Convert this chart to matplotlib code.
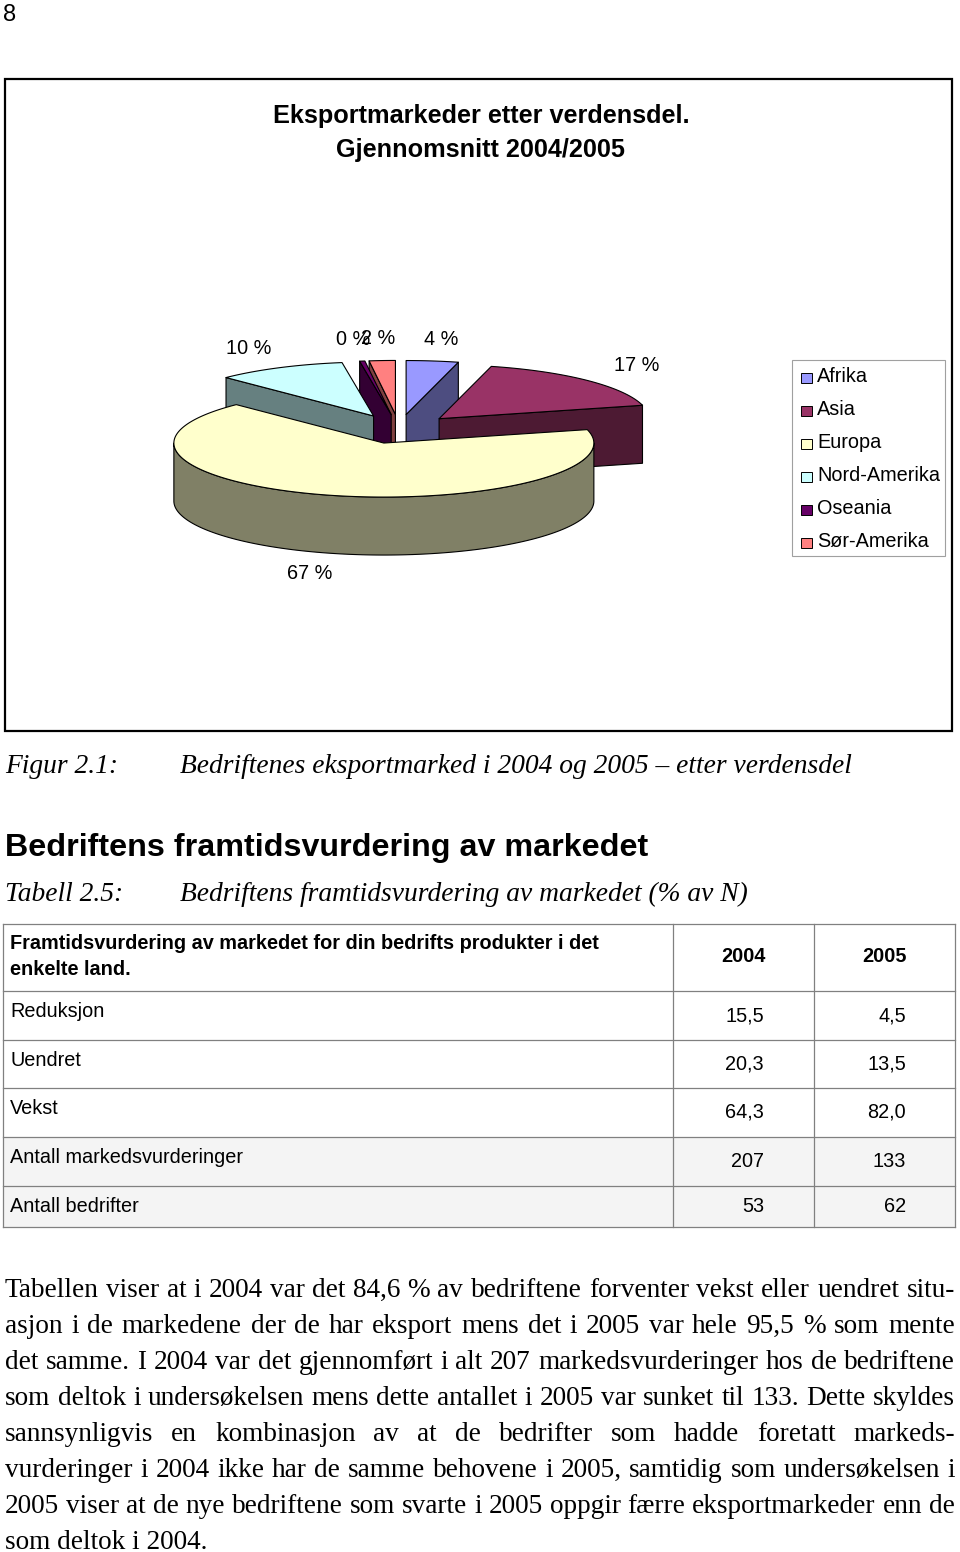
import numpy as np
import matplotlib.pyplot as plt
from matplotlib.patches import Polygon, Rectangle

# export markets by region, average 2004/2005 (percent)
regions = ["Afrika", "Asia", "Europa", "Nord-Amerika", "Oseania", "Sør-Amerika"]
shares = [4.0, 17.0, 66.6, 10.0, 0.4, 2.0]
top_colors = ["#9999FF", "#993366", "#FFFFCC", "#CCFFFF", "#660066", "#FF8080"]
side_colors = ["#4D4D80", "#4D1A33", "#808066", "#668080", "#330033", "#804040"]

# table 2.5
header_text = ["Framtidsvurdering av markedet for din bedrifts produkter i det",
               "enkelte land."]
years = ["2004", "2005"]
row_labels = ["Reduksjon", "Uendret", "Vekst", "Antall markedsvurderinger", "Antall bedrifter"]
vals_2004 = ["15,5", "20,3", "64,3", "207", "53"]
vals_2005 = ["4,5", "13,5", "82,0", "133", "62"]

paragraph = [
    "Tabellen viser at i 2004 var det 84,6 % av bedriftene forventer vekst eller uendret situ-",
    "asjon i de markedene der de har eksport mens det i 2005 var hele 95,5 % som mente",
    "det samme. I 2004 var det gjennomført i alt 207 markedsvurderinger hos de bedriftene",
    "som deltok i undersøkelsen mens dette antallet i 2005 var sunket til 133. Dette skyldes",
    "sannsynligvis en kombinasjon av at de bedrifter som hadde foretatt markeds-",
    "vurderinger i 2004 ikke har de samme behovene i 2005, samtidig som undersøkelsen i",
    "2005 viser at de nye bedriftene som svarte i 2005 oppgir færre eksportmarkeder enn de",
    "som deltok i 2004.",
]

SANS = "Liberation Sans"
SERIF = "Liberation Serif"

fig = plt.figure(figsize=(9.6, 15.52), dpi=100)
ax = fig.add_axes([0, 0, 1, 1])
ax.set_xlim(0, 960)
ax.set_ylim(1552, 0)
ax.axis("off")

# page number
ax.text(3, 21, "8", fontsize=17, family=SANS, va="baseline")

# chart frame
ax.add_patch(Rectangle((5, 79), 947, 652, fill=False, ec="black", lw=1.6))
ax.text(481, 123, "Eksportmarkeder etter verdensdel.", fontsize=18.2, family=SANS,
        weight="bold", ha="center", va="baseline")
ax.text(481, 157, "Gjennomsnitt 2004/2005", fontsize=18.2, family=SANS,
        weight="bold", ha="center", va="baseline")

# 3D exploded pie
cx, cy = 399, 429
rx, ry, depth, explode = 210, 54, 58, 0.27


def rim(x0, y0, th):
    t = np.radians(th)
    return x0 + rx * np.sin(t), y0 - ry * np.cos(t)


fracs = np.array(shares) / sum(shares)
edges = np.concatenate([[0], np.cumsum(fracs)]) * 360
faces = []
tops = []
labels = []
for i in range(len(shares)):
    a0, a1 = edges[i], edges[i + 1]
    mid = np.radians((a0 + a1) / 2)
    ox = cx + explode * rx * np.sin(mid)
    oy = cy - explode * ry * np.cos(mid)
    th = np.linspace(a0, a1, int(a1 - a0) + 3)
    xs, ys = rim(ox, oy, th)
    tops.append((np.column_stack([np.r_[ox, xs], np.r_[oy, ys]]), top_colors[i]))
    # front part of the outer wall
    lo, hi = max(a0, 90), min(a1, 270)
    if hi > lo:
        tw = np.linspace(lo, hi, int(hi - lo) + 3)
        wx, wy = rim(ox, oy, tw)
        poly = np.column_stack([np.r_[wx, wx[::-1]], np.r_[wy, wy[::-1] + depth]])
        faces.append((wy.mean(), poly, side_colors[i]))
    # radial cut faces that face the viewer
    for ang, vis in ((a0, np.sin(np.radians(a0)) < -1e-9),
                     (a1, np.sin(np.radians(a1)) > 1e-9)):
        if vis:
            ex, ey = rim(ox, oy, ang)
            poly = [(ox, oy), (ex, ey), (ex, ey + depth), (ox, oy + depth)]
            faces.append(((oy + ey) / 2, poly, side_colors[i]))
    lx = ox + 1.33 * rx * np.sin(mid)
    ly = oy - 1.4 * ry * np.cos(mid) + (depth if np.cos(mid) < 0 else 0)
    labels.append((lx, ly, f"{fracs[i] * 100:.0f} %"))

for key, poly, col in sorted(faces, key=lambda f: f[0]):
    ax.add_patch(Polygon(poly, closed=True, fc=col, ec="black", lw=0.8, joinstyle="round"))
for poly, col in tops:
    ax.add_patch(Polygon(poly, closed=True, fc=col, ec="black", lw=0.8, joinstyle="round"))
for lx, ly, s in labels:
    ax.text(lx, ly, s, fontsize=14.3, family=SANS, ha="center", va="center")

# legend
ax.add_patch(Rectangle((792, 360), 153, 196, fill=False, ec="#A0A0A0", lw=0.8))
for i, name in enumerate(regions):
    yc = 375 + 33 * i
    ax.add_patch(Rectangle((801, yc - 2), 11, 10, fc=top_colors[i], ec="black", lw=0.7))
    ax.text(817, yc + 7, name, fontsize=14.3, family=SANS, va="baseline")

# caption and heading
ax.text(5, 773, "Figur 2.1:", fontsize=19.8, family=SERIF, style="italic", va="baseline")
ax.text(180, 773, "Bedriftenes eksportmarked i 2004 og 2005 \u2013 etter verdensdel",
        fontsize=19.8, family=SERIF, style="italic", va="baseline")
ax.text(5, 856, "Bedriftens framtidsvurdering av markedet", fontsize=23.2, family=SANS,
        weight="bold", va="baseline")
ax.text(5, 901, "Tabell 2.5:", fontsize=19.8, family=SERIF, style="italic", va="baseline")
ax.text(180, 901, "Bedriftens framtidsvurdering av markedet (% av N)", fontsize=19.8,
        family=SERIF, style="italic", va="baseline")

# table
row_y = [924, 991, 1040, 1088, 1137, 1186, 1227]
col_x = [3, 673, 814, 955]
ax.add_patch(Rectangle((col_x[0], row_y[4]), col_x[-1] - col_x[0], row_y[6] - row_y[4],
                       fc="#F4F4F4", ec="none"))
for y in row_y:
    ax.plot([col_x[0], col_x[-1]], [y, y], color="#808080", lw=0.9)
for x in col_x:
    ax.plot([x, x], [row_y[0], row_y[-1]], color="#808080", lw=0.9)
ax.text(10, 949, header_text[0], fontsize=14.3, family=SANS, weight="bold", va="baseline")
ax.text(10, 975, header_text[1], fontsize=14.3, family=SANS, weight="bold", va="baseline")
ax.text(743, 962, years[0], fontsize=14.3, family=SANS, weight="bold", ha="center", va="baseline")
ax.text(884, 962, years[1], fontsize=14.3, family=SANS, weight="bold", ha="center", va="baseline")
for r, lab in enumerate(row_labels):
    ax.text(10, row_y[r + 1] + 26, lab, fontsize=14.3, family=SANS, va="baseline")
    vy = row_y[r + 1] + (30 if r < 4 else 26)
    ax.text(764, vy, vals_2004[r], fontsize=14.3, family=SANS, ha="right", va="baseline")
    ax.text(906, vy, vals_2005[r], fontsize=14.3, family=SANS, ha="right", va="baseline")

# justified paragraph
renderer = fig.canvas.get_renderer()
left, right = 5, 955
for k, line in enumerate(paragraph):
    yb = 1297 + 36 * k
    words = line.split(" ")
    if k == len(paragraph) - 1:
        ax.text(left, yb, line, fontsize=19.6, family=SERIF, va="baseline")
        continue
    arts = [ax.text(0, yb, w, fontsize=19.6, family=SERIF, va="baseline") for w in words]
    widths = [a.get_window_extent(renderer).width for a in arts]
    gap = (right - left - sum(widths)) / (len(words) - 1)
    x = left
    for a, w in zip(arts, widths):
        a.set_x(x)
        x += w + gap

fig.savefig("out.png", dpi=100)
